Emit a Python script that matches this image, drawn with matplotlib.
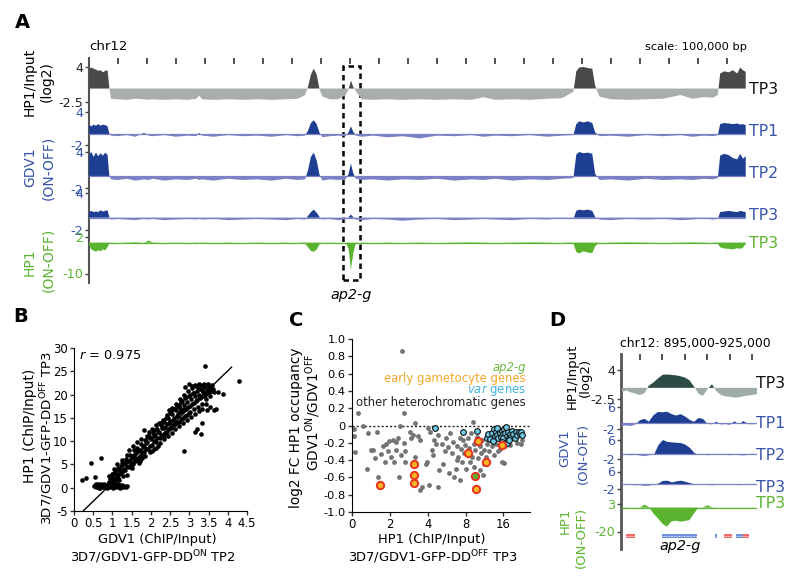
import numpy as np
import matplotlib
matplotlib.use('Agg')
import matplotlib.pyplot as plt
from matplotlib.patches import Rectangle
from matplotlib.transforms import blended_transform_factory

plt.rcParams['font.family'] = ['DejaVu Sans']
plt.rcParams['mathtext.fontset'] = 'dejavusans'

# ---------------- panel A: chr12 tracks (positions in Mb) ----------------
a_pos = [0.000, 0.008, 0.016, 0.024, 0.032, 0.040, 0.048, 0.056, 0.064, 0.070,
         0.076, 0.100, 0.130, 0.160, 0.190, 0.205, 0.220, 0.260, 0.300, 0.340,
         0.370, 0.380, 0.390, 0.430, 0.480, 0.530, 0.580, 0.630, 0.680, 0.720,
         0.745, 0.755, 0.765, 0.775, 0.785, 0.795, 0.805, 0.830, 0.860, 0.885,
         0.895, 0.903, 0.911, 0.920, 0.940, 0.980, 1.030, 1.080, 1.140, 1.200,
         1.260, 1.320, 1.360, 1.400, 1.460, 1.520, 1.580, 1.630, 1.670, 1.680,
         1.690, 1.705, 1.720, 1.735, 1.745, 1.760, 1.800, 1.860, 1.920, 1.980,
         2.040, 2.080, 2.120, 2.150, 2.168, 2.176, 2.190, 2.205, 2.220, 2.235,
         2.245, 2.255, 2.264]
a_hp1_input = [3.6, 3.9, 3.7, 3.5, 3.3, 3.4, 3.0, 3.3, 3.4, 0.2,
               -1.9, -2.0, -2.1, -1.9, -2.0, -2.1, -2.0, -2.1, -2.0, -2.1,
               -1.9, -1.3, -2.0, -2.1, -2.0, -2.1, -2.0, -2.1, -2.0, -1.9,
               -1.2, 0.3, 2.6, 3.7, 2.6, -0.2, -1.5, -2.0, -2.0, -1.2,
               -0.1, 1.5, 0.3, -0.5, -2.0, -2.1, -2.0, -2.1, -2.0, -2.1,
               -2.0, -2.1, -1.6, -2.1, -2.0, -2.1, -1.9, -1.8, -0.6, 3.2,
               3.9, 4.0, 3.8, 3.7, 0.5, -1.5, -2.0, -2.1, -2.0, -1.9,
               -1.2, -1.9, -1.6, -1.7, -1.2, 2.8, 3.2, 3.0, 3.4, 2.8,
               3.9, 3.4, 3.1]
a_gdv1_tp1 = [1.6, 1.4, 1.7, 1.5, 1.8, 1.5, 1.7, 1.6, 1.4, 0.1,
              -0.3, -0.4, -0.2, -0.5, 0.2, -0.3, -0.4, -0.2, -0.5, -0.3,
              -0.4, 0.2, -0.3, -0.5, -0.2, -0.4, -0.3, -0.5, -0.2, -0.4,
              -0.3, 0.6, 2.0, 2.5, 1.8, 0.2, -0.6, -0.4, -0.3, -0.4,
              0.3, 1.4, 0.4, -0.3, -0.5, -0.3, -0.6, -0.4, -0.8, -0.3,
              -0.4, -0.2, -0.5, -0.3, -0.4, -0.2, -0.5, -0.3, -0.2, 1.8,
              2.3, 2.1, 2.3, 2.0, 0.3, -0.4, -0.3, -0.5, -0.2, -0.4,
              -0.2, -0.5, -0.3, -0.4, -0.2, 1.8, 2.0, 1.9, 1.8, 1.9,
              1.7, 1.8, 1.6]
a_gdv1_tp2 = [3.6, 4.0, 3.2, 3.9, 3.3, 3.8, 3.4, 3.9, 3.5, 0.2,
              -0.5, -0.6, -0.4, -0.7, -0.5, -0.6, -0.4, -0.7, -0.5, -0.6,
              -0.4, -0.6, -0.5, -0.7, -0.4, -0.6, -0.5, -0.7, -0.4, -0.6,
              -0.5, 1.0, 3.2, 3.9, 2.6, 0.2, -0.7, -0.5, -0.6, -0.5,
              0.4, 2.1, 0.5, -0.4, -0.6, -0.5, -0.7, -0.5, -0.6, -0.4,
              -0.7, -0.5, -0.6, -0.4, -0.7, -0.5, -0.6, -0.4, -0.3, 3.6,
              4.0, 3.8, 3.9, 3.7, 0.4, -0.6, -0.5, -0.7, -0.4, -0.6,
              -0.5, -0.6, -0.4, -0.5, -0.3, 3.4, 3.7, 3.5, 3.0, 2.8,
              3.7, 2.9, 3.3]
a_gdv1_tp3 = [0.9, 1.1, 0.9, 1.0, 0.9, 1.2, 1.0, 1.1, 1.2, 0.1,
              -0.3, -0.2, -0.3, -0.4, -0.2, -0.3, -0.2, -0.4, -0.3, -0.2,
              -0.3, -0.1, -0.3, -0.2, -0.4, -0.3, -0.2, -0.3, -0.4, -0.2,
              -0.3, 0.3, 0.9, 1.3, 0.8, 0.1, -0.3, -0.2, -0.4, -0.3,
              0.1, 0.5, 0.1, -0.3, -0.4, -0.2, -0.3, -0.5, -0.3, -0.2,
              -0.4, -0.3, -0.2, -0.3, -0.4, -0.2, -0.3, -0.1, -0.2, 1.1,
              1.3, 1.2, 1.3, 1.1, 0.1, -0.3, -0.4, -0.2, -0.3, -0.2,
              -0.4, -0.3, -0.1, -0.3, -0.2, 0.9, 1.0, 1.1, 1.0, 0.9,
              1.1, 1.0, 0.9]
a_hp1_diff = [-0.8, -2.2, -2.6, -2.9, -2.5, -2.8, -2.2, -2.5, -1.5, -0.2,
              0.1, 0.0, 0.1, 0.2, 0.0, 0.7, 0.1, 0.0, 0.1, 0.0,
              0.1, 0.0, 0.1, 0.0, 0.1, 0.0, 0.1, 0.0, 0.1, 0.0,
              -0.3, -1.5, -2.7, -3.0, -2.2, -0.5, 0.0, 0.1, 0.0, 0.0,
              -2.0, -8.8, -3.5, -0.2, 0.1, 0.0, 0.1, 0.0, 0.1, 0.0,
              0.1, 0.2, 0.1, 0.0, 0.1, 0.2, 0.1, 0.0, -0.3, -3.0,
              -3.5, -2.8, -3.2, -3.4, -1.2, 0.0, 0.1, 0.2, 0.1, 0.0,
              0.1, 0.2, 0.1, 0.0, -0.4, -1.5, -1.9, -2.0, -2.2, -1.8,
              -2.0, -1.6, -0.4]
a_ruler_ticks = [0.1, 0.2, 0.3, 0.4, 0.5, 0.6, 0.7, 0.8, 0.9, 1.0, 1.1,
                 1.2, 1.3, 1.4, 1.5, 1.6, 1.7, 1.8, 1.9, 2.0, 2.1, 2.2]
a_ap2g_box = (0.876, 0.934)

# ---------------- panel D: zoom on ap2-g (positions in kb) ----------------
d_pos = [896, 897, 898, 899, 900, 901, 902, 903, 904, 905, 906, 907, 908, 909, 910,
         911, 912, 913, 914, 915, 916, 917, 918, 919, 920, 921, 922, 923, 924, 925, 926]
d_hp1_input = [-0.9, -0.6, -1.0, -1.3, -1.6, -1.2, 0.5, 1.2, 2.1, 2.9, 3.0, 2.9, 2.8, 2.6, 2.3,
               1.7, 0.3, -1.3, -1.8, -0.3, 0.8, -0.8, -1.6, -1.9, -2.0, -2.2, -2.1, -1.9, -1.7, -1.6, -1.4]
d_gdv1_tp1 = [-1.0, -0.9, -1.1, -0.6, 1.0, 1.5, 0.5, 2.8, 4.0, 3.9, 4.1, 3.3, 2.7, 3.2, 2.4,
              1.2, 0.4, 1.8, 1.5, -0.3, -0.5, 0.5, -0.6, -0.4, -0.7, 0.6, -0.5, 0.7, -0.4, -0.5, -0.3]
d_gdv1_tp2 = [-0.4, -0.3, -0.6, -0.4, -0.7, -1.0, -0.6, -0.3, 4.0, 6.2, 5.4, 5.2, 5.0, 4.9, 4.2,
              2.8, 0.6, -0.5, -0.3, -0.6, -0.4, -0.3, -0.5, -0.4, -0.6, -0.3, -0.5, -0.7, -0.4, -0.5, -0.3]
d_gdv1_tp3 = [-0.3, -0.4, -0.3, -0.5, -0.4, -0.8, -0.7, -0.2, 0.6, 1.8, 1.9, 1.1, 1.6, 1.9, 1.4,
              0.8, 0.2, -0.3, -0.4, -0.3, -0.5, -0.3, -0.4, -0.2, -0.4, -0.3, -0.5, -0.3, -0.4, -0.3, -0.4]
d_hp1_diff = [0.0, 0.2, 0.0, 0.1, 0.0, 2.5, 0.5, -5.0, -9.0, -13.5, -16.0, -11.5, -11.0, -11.8, -11.2,
              -10.5, -5.0, 0.0, 0.2, 2.0, 0.3, 0.1, 0.0, 0.1, 0.0, 0.1, 0.0, 0.1, 0.0, 0.1, 0.0]
d_ruler_ticks = [900, 905, 910, 915, 920, 925]
d_gene_start = [896.9, 905.0, 916.7, 918.7, 921.3, 923.0]
d_gene_end = [898.9, 912.6, 917.1, 920.4, 923.0, 924.2]
d_gene_strand = ['-', '+', '+', '-', '+', '-']

# ---------------- panel B: GDV1 vs HP1 occupancy ----------------
b_flat = [(0.52, 0.3), (0.55, 0.6), (0.58, 0.1), (0.6, 0.4), (0.62, 0.8), (0.64, 0.2), (0.66, 0.5),
          (0.68, 0.0), (0.7, 0.7), (0.72, 0.3), (0.74, 0.5), (0.76, 0.1), (0.78, 0.8), (0.8, 0.4),
          (0.82, 0.2), (0.84, 0.6), (0.86, 0.0), (0.88, 0.9), (0.9, 0.3), (0.92, 0.5), (0.94, 0.1),
          (0.96, 0.7), (0.98, 0.3), (1.0, 0.5), (1.02, 0.0), (1.04, 0.8), (1.06, 0.3), (1.08, 0.6),
          (1.1, 0.1), (1.12, 0.4), (1.14, 0.7), (1.16, 0.2), (1.18, 0.5), (1.2, 0.0), (1.22, 0.3),
          (1.25, 0.6), (1.28, 0.2), (1.31, 0.4), (1.34, 0.1), (1.37, 0.3), (0.57, 0.9), (0.65, 0.0)]
b_band = [(0.9, 1.2), (0.93, 1.8), (0.95, 0.9), (0.97, 2.4), (1.0, 1.5), (0.98, 3.0), (0.92, 2.6),
          (1.02, 2.0), (1.04, 3.2), (1.06, 1.2), (1.08, 2.7), (1.05, 4.0), (1.1, 1.8), (1.09, 3.6),
          (1.12, 2.4), (1.14, 4.2), (1.16, 3.0), (1.18, 1.6), (1.13, 5.0), (1.19, 3.8), (1.15, 2.0),
          (1.21, 4.6), (1.23, 3.2), (1.25, 5.4), (1.27, 2.6), (1.29, 4.0), (1.24, 6.0), (1.28, 3.6),
          (1.31, 5.0), (1.33, 3.8), (1.35, 6.2), (1.37, 4.6), (1.39, 2.8), (1.34, 5.6), (1.38, 7.0),
          (1.41, 5.8), (1.43, 4.4), (1.45, 7.0), (1.47, 6.2), (1.49, 4.8), (1.44, 8.0), (1.48, 5.4),
          (1.51, 6.6), (1.53, 5.0), (1.55, 8.0), (1.57, 7.0), (1.59, 5.8), (1.54, 9.0), (1.58, 6.4), (1.52, 4.2),
          (1.61, 7.4), (1.63, 6.0), (1.65, 8.6), (1.67, 7.8), (1.69, 6.6), (1.64, 9.8), (1.68, 5.4), (1.62, 8.2),
          (1.71, 8.2), (1.73, 7.0), (1.75, 9.4), (1.77, 6.4), (1.79, 8.8), (1.74, 10.4), (1.78, 7.6), (1.72, 5.8),
          (1.81, 9.0), (1.83, 7.6), (1.85, 10.2), (1.87, 8.4), (1.89, 11.0), (1.84, 6.8), (1.88, 9.6), (1.82, 12.5),
          (1.91, 9.8), (1.93, 8.4), (1.95, 11.0), (1.97, 7.6), (1.99, 10.4), (1.94, 12.0), (1.98, 9.0), (1.92, 10.8),
          (2.01, 10.6), (2.03, 9.2), (2.05, 11.8), (2.07, 8.4), (2.09, 11.2), (2.04, 12.6), (2.08, 10.0), (2.02, 7.8),
          (2.11, 11.4), (2.13, 9.8), (2.15, 12.6), (2.17, 10.6), (2.19, 9.0), (2.14, 13.4), (2.18, 12.0), (2.12, 8.6),
          (2.21, 12.0), (2.23, 10.6), (2.25, 13.4), (2.27, 11.4), (2.29, 14.2), (2.24, 9.6), (2.28, 12.8), (2.22, 13.8),
          (2.31, 12.8), (2.33, 11.2), (2.35, 14.2), (2.37, 13.0), (2.39, 15.0), (2.34, 10.4), (2.38, 11.8), (2.32, 14.6),
          (2.41, 13.6), (2.43, 12.0), (2.45, 15.0), (2.47, 13.8), (2.49, 16.0), (2.44, 11.0), (2.48, 12.6), (2.42, 15.6), (2.46, 16.6),
          (2.51, 14.4), (2.53, 12.8), (2.55, 15.8), (2.57, 14.6), (2.59, 16.8), (2.54, 11.8), (2.58, 13.4), (2.52, 16.4), (2.56, 17.2),
          (2.61, 15.0), (2.63, 13.6), (2.65, 16.6), (2.67, 15.4), (2.69, 17.6), (2.64, 12.6), (2.68, 14.2), (2.62, 17.0), (2.66, 18.0),
          (2.71, 15.8), (2.73, 14.2), (2.75, 17.2), (2.77, 16.2), (2.79, 18.4), (2.74, 13.2), (2.78, 14.8), (2.72, 17.8), (2.76, 19.0),
          (2.81, 16.4), (2.83, 15.0), (2.85, 17.8), (2.87, 16.8), (2.89, 19.2), (2.84, 13.8), (2.88, 15.4), (2.82, 18.6), (2.86, 20.0),
          (2.91, 17.0), (2.93, 15.6), (2.95, 18.4), (2.97, 17.4), (2.99, 19.8), (2.94, 14.6), (2.98, 16.0), (2.92, 19.4), (2.96, 20.8), (2.9, 21.6),
          (3.01, 17.6), (3.03, 16.2), (3.05, 19.0), (3.07, 18.0), (3.09, 20.4), (3.04, 15.2), (3.08, 21.4), (3.02, 20.0), (3.06, 21.8), (3.0, 22.2),
          (3.11, 18.2), (3.13, 16.8), (3.15, 19.6), (3.17, 18.6), (3.19, 20.8), (3.14, 15.8), (3.18, 21.8), (3.12, 20.4), (3.16, 22.0),
          (3.21, 18.8), (3.23, 17.4), (3.25, 20.0), (3.27, 19.2), (3.29, 21.2), (3.24, 16.4), (3.28, 22.0), (3.22, 21.6), (3.26, 22.2),
          (3.31, 19.4), (3.33, 18.0), (3.35, 20.6), (3.37, 19.8), (3.39, 21.6), (3.34, 17.0), (3.38, 22.2), (3.32, 21.0), (3.36, 22.0),
          (3.41, 20.0), (3.43, 19.0), (3.45, 21.0), (3.47, 20.4), (3.49, 21.8), (3.44, 18.0), (3.48, 22.2),
          (3.51, 20.6), (3.53, 19.6), (3.55, 21.4), (3.57, 20.8), (3.59, 22.0), (3.58, 21.2), (3.62, 21.2), (3.65, 20.6)]
b_outliers = [(0.2, 1.6), (0.32, 2.1), (0.44, 5.3), (0.55, 2.3), (0.7, 6.4), (2.07, 12.5), (2.85, 7.8),
              (3.15, 12.0), (3.2, 12.6), (3.3, 11.6), (3.32, 13.8), (3.42, 26.1), (3.45, 16.6), (3.54, 17.3),
              (3.64, 16.6), (3.7, 17.0), (3.75, 20.6), (3.87, 20.2), (4.3, 22.9)]
b_fit_slope, b_fit_intercept = 8.0, -6.9
b_fit_range = [0.24, 4.1]
b_r = 0.975

# ---------------- panel C: fold change vs HP1 occupancy ----------------
c_other = [(0.06, -0.04), (0.06, -0.12), (0.09, -0.31), (0.3, 0.0), (0.42, -0.09), (0.39, -0.5),
           (0.49, -0.28), (0.55, -0.28), (0.62, -0.38), (0.66, -0.07), (0.68, -0.6), (0.77, -0.33),
           (0.81, -0.24), (0.86, -0.42), (0.9, -0.21), (0.95, -0.3), (0.99, -0.18), (1.04, -0.36),
           (1.08, -0.17), (1.12, -0.42), (1.15, -0.28), (1.17, -0.19), (1.22, -0.14), (1.24, -0.6),
           (1.28, -0.01), (1.3, -0.34), (1.36, -0.2), (1.39, -0.3), (1.41, -0.42), (1.52, -0.07),
           (1.55, -0.14), (1.6, -0.11), (1.66, -0.36), (1.75, -0.12), (1.79, -0.17), (1.79, -0.75),
           (1.86, -0.71), (1.95, -0.44), (1.98, -0.42), (2.01, -0.03), (2.04, -0.69), (2.06, -0.07),
           (2.1, -0.28), (2.14, -0.34), (2.17, -0.17), (2.23, -0.21), (2.28, -0.11), (2.28, -0.71),
           (2.3, -0.51), (2.37, -0.21), (2.41, -0.44), (2.45, -0.3), (2.48, -0.15), (2.54, -0.25),
           (2.57, -0.55), (2.59, -0.09), (2.63, -0.32), (2.68, -0.19), (2.7, -0.59), (2.75, -0.5),
           (2.76, -0.4), (2.78, -0.24), (2.81, -0.36), (2.84, -0.15), (2.85, -0.63), (2.87, -0.27),
           (2.9, -0.42), (2.94, -0.17), (2.96, -0.32), (2.99, -0.23), (3.01, -0.5), (3.06, -0.14),
           (3.1, -0.26), (3.12, -0.42), (3.15, -0.09), (3.16, -0.36), (3.19, 0.04), (3.21, -0.21),
           (3.23, -0.48), (3.25, -0.28), (3.3, -0.13), (3.34, -0.38), (3.37, -0.24), (3.39, -0.51),
           (3.41, -0.32), (3.43, -0.17), (3.46, -0.57), (3.48, -0.44), (3.49, -0.28), (3.55, -0.36),
           (3.56, -0.21), (3.61, -0.3), (3.65, -0.17), (3.7, -0.24), (3.72, -0.13), (3.76, -0.34),
           (3.81, -0.21), (3.85, -0.3), (3.92, -0.27), (3.95, -0.42), (4.01, -0.43), (4.05, -0.24),
           (4.09, -0.17), (4.18, -0.22), (4.27, -0.15), (4.36, -0.2), (4.45, -0.21), (4.49, -0.17),
           (4.09, -0.05), (4.23, -0.06), (0.17, 0.14), (1.37, 0.14), (1.33, 0.86), (1.67, 0.03)]
c_var = [(2.2, -0.03), (2.92, -0.08), (3.31, -0.06), (3.56, -0.14), (3.6, -0.1), (3.65, -0.16),
         (3.7, -0.09), (3.74, -0.04), (3.78, -0.12), (3.8, -0.07), (3.83, -0.11), (3.86, -0.15),
         (3.88, -0.05), (3.9, -0.09), (3.93, -0.13), (3.96, -0.06), (3.98, -0.1), (4.0, -0.14),
         (4.02, -0.04), (4.05, -0.09), (4.08, -0.2), (4.1, -0.12), (4.12, -0.07), (4.15, -0.15),
         (4.18, -0.1), (4.2, -0.13), (4.23, -0.06), (4.26, -0.1), (4.3, -0.14), (4.33, -0.08),
         (4.36, -0.11), (4.4, -0.07), (4.43, -0.1), (4.47, -0.08), (4.5, -0.11), (3.72, -0.18),
         (3.95, -0.19), (4.14, -0.17), (3.84, -0.03), (4.06, -0.02)]
c_early = [(0.73, -0.69), (1.63, -0.45), (1.63, -0.57), (1.65, -0.66), (3.05, -0.32),
           (3.32, -0.18), (3.54, -0.42), (3.28, -0.73), (3.97, -0.22)]
c_ap2g = [(3.26, -0.58)]
c_xtick_labels = ['0', '2', '4', '8', '16']

# ---------------- layout helpers ----------------
W, H = 800, 580
fig = plt.figure(figsize=(W / 100, H / 100), dpi=100)
fig.patch.set_facecolor('white')

GRAY_D, GRAY_L = '#4a4a4a', '#a9aeac'
SLATE_D, SLATE_L = '#2d4b46', '#9daca7'
BLUE, LAV, BLUE_T = '#1e3e92', '#7b81c5', '#3654a9'
GREEN = '#5bb430'
TICK_FS = 9.2


def px_axes(left, top, right, bottom):
    return fig.add_axes([left / W, 1 - bottom / H, (right - left) / W, (bottom - top) / H])


def ftext(x, y, s, **kw):
    kw.setdefault('ha', 'center')
    kw.setdefault('va', 'center')
    fig.text(x / W, 1 - y / H, s, **kw)


def ruler(left, top, right, bottom, xlim, ticks, lw):
    ax = px_axes(left, top, right, bottom)
    ax.set_xlim(*xlim)
    ax.set_ylim(0, 1)
    for s in ['top', 'right', 'bottom']:
        ax.spines[s].set_visible(False)
    ax.spines['left'].set_linewidth(lw)
    ax.spines['left'].set_color('#555555')
    ax.set_yticks([])
    ax.set_xticks(ticks)
    ax.xaxis.set_ticks_position('top')
    ax.tick_params(axis='x', direction='in', length=4, width=1.2, color='#333333', labeltop=False)
    ax.patch.set_visible(False)
    return ax


def track(box, xlim, pos, vals, up, down, ylim, labels, tcolor, base=None):
    ax = px_axes(*box)
    pos = np.asarray(pos, dtype=float)
    v = np.asarray(vals, dtype=float)
    ax.fill_between(pos, v, 0, where=v >= 0, interpolate=True, color=up, lw=0)
    ax.fill_between(pos, v, 0, where=v <= 0, interpolate=True, color=down, lw=0)
    if base is not None:
        ax.plot([pos[0], pos[-1]], [0, 0], color=base, lw=0.9)
    ax.set_xlim(*xlim)
    ax.set_ylim(*ylim)
    ax.set_xticks([])
    ax.set_yticks([ylim[1], ylim[0]])
    ax.set_yticklabels(labels, fontsize=TICK_FS)
    for t in ax.get_yticklabels():
        t.set_color(tcolor)
    ax.tick_params(axis='y', length=3, width=1, color='#444444', pad=1)
    for s in ax.spines.values():
        s.set_visible(False)
    ax.patch.set_visible(False)
    return ax


# ================= panel A =================
A_L, A_R = 89, 746
a_xlim = (0, 2.265)
ax_ra = ruler(A_L, 58, A_R, 283, a_xlim, a_ruler_ticks, 1.5)
trans = blended_transform_factory(ax_ra.transData, ax_ra.transAxes)
ax_ra.add_patch(Rectangle((a_ap2g_box[0], 0.013), a_ap2g_box[1] - a_ap2g_box[0], 0.951,
                          transform=trans, fill=False, ls=(0, (2.2, 1.6)), lw=1.8, ec='black'))

track((A_L, 67, A_R, 102), a_xlim, a_pos, a_hp1_input, GRAY_D, GRAY_L, (-2.5, 4), ['4', '-2.5'], '#222222')
track((A_L, 112, A_R, 145), a_xlim, a_pos, a_gdv1_tp1, BLUE, LAV, (-2, 4), ['4', '-2'], BLUE_T, LAV)
track((A_L, 152, A_R, 188.5), a_xlim, a_pos, a_gdv1_tp2, BLUE, LAV, (-2, 4), ['4', '-2'], BLUE_T, LAV)
track((A_L, 193, A_R, 230), a_xlim, a_pos, a_gdv1_tp3, BLUE, LAV, (-2, 4), ['4', '-2'], BLUE_T, LAV)
track((A_L, 236.5, A_R, 273.5), a_xlim, a_pos, a_hp1_diff, GREEN, GREEN, (-10, 2), ['2', '-10'], GREEN, GREEN)

ftext(22, 22, 'A', fontsize=14, fontweight='bold')
ftext(89, 47, 'chr12', fontsize=9.5, ha='left')
ftext(696, 47, 'scale: 100,000 bp', fontsize=8.2)
ftext(30, 82, 'HP1/Input', fontsize=10, rotation=90)
ftext(47, 82, '(log2)', fontsize=10, rotation=90)
ftext(30, 167, 'GDV1', fontsize=10, rotation=90, color=BLUE_T)
ftext(48, 168, '(ON-OFF)', fontsize=10, rotation=90, color=BLUE_T)
ftext(30, 262, 'HP1', fontsize=10, rotation=90, color=GREEN)
ftext(48, 260, '(ON-OFF)', fontsize=10, rotation=90, color=GREEN)
ftext(749, 89, 'TP3', fontsize=11.3, ha='left', color='#111111')
ftext(749, 132, 'TP1', fontsize=11.3, ha='left', color=BLUE_T)
ftext(749, 173, 'TP2', fontsize=11.3, ha='left', color=BLUE_T)
ftext(749, 215, 'TP3', fontsize=11.3, ha='left', color=BLUE_T)
ftext(749, 243, 'TP3', fontsize=11.3, ha='left', color=GREEN)
ftext(351, 295, 'ap2-g', fontsize=10.4, fontstyle='italic')

# ================= panel B =================
axb = px_axes(74, 348, 247, 511)
pts = np.array(b_flat + b_band + b_outliers)
axb.scatter(pts[:, 0], pts[:, 1], s=11, color='black', linewidths=0)
fx = np.array(b_fit_range)
axb.plot(fx, b_fit_slope * fx + b_fit_intercept, color='black', lw=1)
axb.set_xlim(0, 4.5)
axb.set_ylim(-5, 30)
axb.set_xticks([0, 0.5, 1, 1.5, 2, 2.5, 3, 3.5, 4, 4.5])
axb.set_xticklabels(['0', '0.5', '1', '1.5', '2', '2.5', '3', '3.5', '4', '4.5'], fontsize=8.4)
axb.set_yticks([-5, 0, 5, 10, 15, 20, 25, 30])
axb.set_yticklabels(['-5', '0', '5', '10', '15', '20', '25', '30'], fontsize=8.4)
axb.spines['top'].set_visible(False)
axb.spines['right'].set_visible(False)
axb.tick_params(length=3, width=1, pad=1.5, color='#333333')
axb.text(0.03, 0.955, '$r$ = %.3f' % b_r, transform=axb.transAxes, fontsize=9.4, va='center')

ftext(21, 317, 'B', fontsize=14, fontweight='bold')
ftext(30, 426, 'HP1 (ChIP/Input)', fontsize=10, rotation=90)
ftext(47, 438, '3D7/GDV1-GFP-DD$^{\\mathrm{OFF}}$ TP3', fontsize=9.6, rotation=90)
ftext(157, 540, 'GDV1 (ChIP/Input)', fontsize=9.4)
ftext(153, 557, '3D7/GDV1-GFP-DD$^{\\mathrm{ON}}$ TP2', fontsize=9.4)

# ================= panel C =================
axc = px_axes(352, 339, 530, 512)
o = np.array(c_other)
axc.scatter(o[:, 0], o[:, 1], s=12, color='#737373', linewidths=0, zorder=2)
v = np.array(c_var)
axc.scatter(v[:, 0], v[:, 1], s=17, color='#6ccbe7', edgecolors='#111111', linewidths=0.8, zorder=3)
e = np.array(c_early)
axc.scatter(e[:, 0], e[:, 1], s=28, color='#f6b622', edgecolors='#e8331f', linewidths=1.4, zorder=4)
g = np.array(c_ap2g)
axc.scatter(g[:, 0], g[:, 1], s=28, color='#5bb030', edgecolors='#e8331f', linewidths=1.4, zorder=5)
axc.axhline(0, color='#222222', lw=1, ls=(0, (1.5, 1.5)), zorder=1)
axc.set_xlim(0, 4.7)
axc.set_ylim(-1.0, 1.0)
axc.set_xticks(range(len(c_xtick_labels)))
axc.set_xticklabels(c_xtick_labels, fontsize=8.4)
yt = [1.0, 0.8, 0.6, 0.4, 0.2, 0, -0.2, -0.4, -0.6, -0.8, -1.0]
axc.set_yticks(yt)
axc.set_yticklabels(['0' if t == 0 else '%.1f' % t for t in yt], fontsize=8.2)
axc.spines['top'].set_visible(False)
axc.spines['right'].set_visible(False)
axc.tick_params(length=3, width=1, pad=1.5, color='#333333')

ftext(296, 320, 'C', fontsize=14, fontweight='bold')
ftext(296, 428, 'log2 FC HP1 occupancy', fontsize=9.8, rotation=90)
ftext(313, 412, 'GDV1$^{\\mathrm{ON}}$/GDV1$^{\\mathrm{OFF}}$', fontsize=9.8, rotation=90)
ftext(432, 540, 'HP1 (ChIP/Input)', fontsize=9.4)
ftext(433, 557, '3D7/GDV1-GFP-DD$^{\\mathrm{OFF}}$ TP3', fontsize=9.4)
ftext(526, 367, 'ap2-g', fontsize=8.4, ha='right', color='#6cb843', fontstyle='italic')
ftext(526, 378.5, 'early gametocyte genes', fontsize=8.4, ha='right', color='#f5a52a')
ftext(526, 390, '$\\it{var}$ genes', fontsize=8.4, ha='right', color='#3fb3e6')
ftext(526, 402.5, 'other heterochromatic genes', fontsize=8.4, ha='right', color='#222222')

# ================= panel D =================
D_L, D_R = 621, 757
d_xlim = (895.8, 926.0)
ruler(D_L, 354, D_R, 549, d_xlim, d_ruler_ticks, 2)
track((D_L, 370, D_R, 399), d_xlim, d_pos, d_hp1_input, SLATE_D, SLATE_L, (-2.5, 4), ['4', '-2.5'], '#222222')
track((D_L, 406.5, D_R, 428.5), d_xlim, d_pos, d_gdv1_tp1, BLUE, LAV, (-2, 6), ['6', '-2'], BLUE_T, LAV)
track((D_L, 440, D_R, 458.5), d_xlim, d_pos, d_gdv1_tp2, BLUE, LAV, (-2, 6), ['6', '-2'], BLUE_T, LAV)
track((D_L, 471.5, D_R, 488.5), d_xlim, d_pos, d_gdv1_tp3, BLUE, LAV, (-2, 6), ['6', '-2'], BLUE_T, LAV)
track((D_L, 504, D_R, 531.5), d_xlim, d_pos, d_hp1_diff, GREEN, GREEN, (-20, 3), ['3', '-20'], GREEN, GREEN)

axg = px_axes(D_L, 531, D_R, 541)
gs = np.array(d_gene_start)
ge = np.array(d_gene_end)
gcol = ['#6d8fd3' if s == '+' else '#ef6b6b' for s in d_gene_strand]
axg.barh(np.full(len(gs), 0.5), ge - gs, left=gs, height=0.45, color=gcol, lw=0)
axg.hlines(np.full(len(gs), 0.5), gs, ge, colors='white', linestyles=(0, (1, 1)), lw=0.6)
axg.set_xlim(*d_xlim)
axg.set_ylim(0, 1)
axg.axis('off')

ftext(557, 320, 'D', fontsize=14, fontweight='bold')
ftext(695, 343, 'chr12: 895,000-925,000', fontsize=8.9)
ftext(572, 376, 'HP1/Input', fontsize=9.5, rotation=90)
ftext(585, 377, '(log2)', fontsize=9.5, rotation=90)
ftext(565, 448, 'GDV1', fontsize=9.5, rotation=90, color=BLUE_T)
ftext(583, 453, '(ON-OFF)', fontsize=9.5, rotation=90, color=BLUE_T)
ftext(565, 521, 'HP1', fontsize=9.5, rotation=90, color=GREEN)
ftext(581, 537, '(ON-OFF)', fontsize=9.5, rotation=90, color=GREEN)
ftext(756, 383, 'TP3', fontsize=11.3, ha='left', color='#111111')
ftext(756, 423, 'TP1', fontsize=11.3, ha='left', color=BLUE_T)
ftext(756, 455, 'TP2', fontsize=11.3, ha='left', color=BLUE_T)
ftext(756, 488, 'TP3', fontsize=11.3, ha='left', color=BLUE_T)
ftext(756, 504, 'TP3', fontsize=11.3, ha='left', color=GREEN)
ftext(680, 546, 'ap2-g', fontsize=10.4, fontstyle='italic')

fig.savefig('out.png', dpi=100, facecolor='white')
